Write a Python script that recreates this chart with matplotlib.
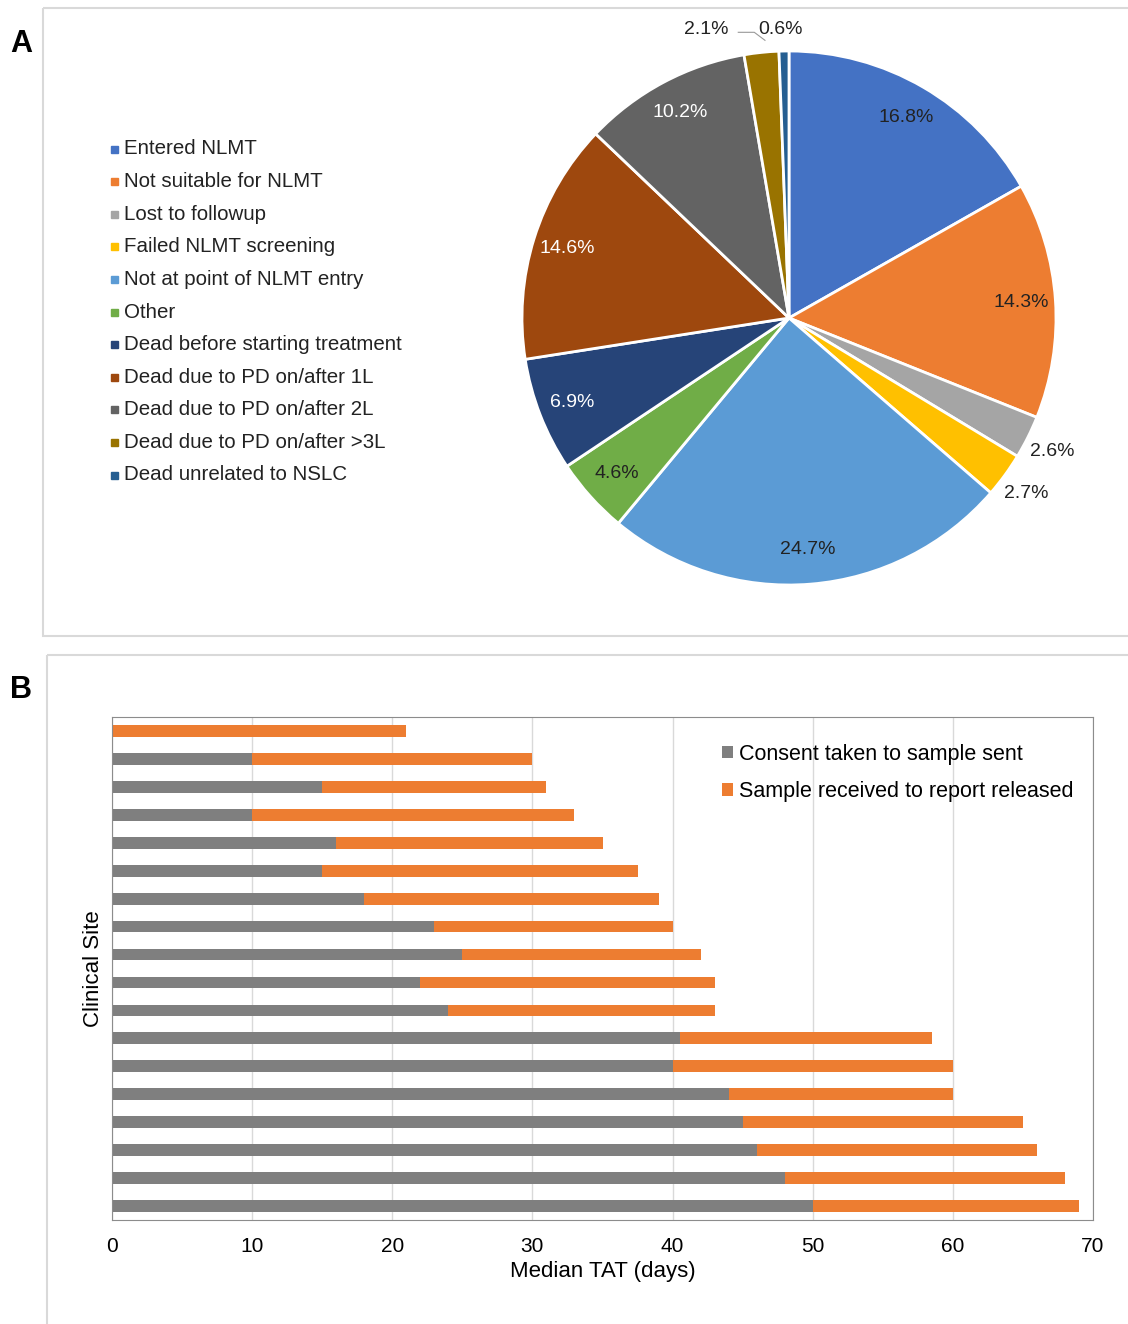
import matplotlib
matplotlib.use("Agg")
import matplotlib.pyplot as plt
import numpy as np
from matplotlib.patches import Rectangle

plt.rcParams['font.family'] = ['Liberation Sans', 'DejaVu Sans']

pie_labels = ["Entered NLMT", "Not suitable for NLMT", "Lost to followup", "Failed NLMT screening",
              "Not at point of NLMT entry", "Other", "Dead before starting treatment",
              "Dead due to PD on/after 1L", "Dead due to PD on/after 2L", "Dead due to PD on/after >3L",
              "Dead unrelated to NSLC"]
pie_values = [16.8, 14.3, 2.6, 2.7, 24.7, 4.6, 6.9, 14.6, 10.2, 2.1, 0.6]
pie_colors = ["#4472C4", "#ED7D31", "#A5A5A5", "#FFC000", "#5B9BD5", "#70AD47",
              "#264478", "#9E480E", "#636363", "#997300", "#255E91"]

consent_to_sent = [0, 10, 15, 10, 16, 15, 18, 23, 25, 22, 24, 40.5, 40, 44, 45, 46, 48, 50]
total_tat = [21, 30, 31, 33, 35, 37.5, 39, 40, 42, 43, 43, 58.5, 60, 60, 65, 66, 68, 69]
received_to_report = [t - c for t, c in zip(total_tat, consent_to_sent)]

W, H = 1128, 1324
fig = plt.figure(figsize=(W/100, H/100), dpi=100)

def fr(x0, y0, x1, y1):
    return [x0/W, 1 - y1/H, (x1-x0)/W, (y1-y0)/H]

bg = fig.add_axes([0, 0, 1, 1]); bg.set_axis_off(); bg.set_xlim(0, W); bg.set_ylim(H, 0)
bg.add_patch(Rectangle((43, 8), 1090, 628, fill=False, ec="#d9d9d9", lw=1.5))
bg.add_patch(Rectangle((47, 655), 1090, 680, fill=False, ec="#d9d9d9", lw=1.5))
bg.text(10, 44, "A", fontsize=22, fontweight="bold", va="center")
bg.text(10, 690, "B", fontsize=22, fontweight="bold", va="center")

for i, (lab, col) in enumerate(zip(pie_labels, pie_colors)):
    y = 149 + i*32.6
    bg.add_patch(Rectangle((111, y-3.5), 7, 7, color=col))
    bg.text(124, y, lab, fontsize=14.8, va="center", color="#222222")

r = 267
axp = fig.add_axes(fr(789-r, 318-r, 789+r, 318+r))
wedges, _ = axp.pie(pie_values, colors=pie_colors, startangle=90, counterclock=False,
                    wedgeprops=dict(edgecolor="white", linewidth=2), radius=1)
axp.set_xlim(-1, 1); axp.set_ylim(-1, 1); axp.set_aspect("equal")
for i, w in enumerate(wedges):
    ang = np.deg2rad((w.theta1 + w.theta2)/2)
    txt = f"{pie_values[i]}%"
    if i in (2, 3):
        d = 1.1
        axp.text(d*np.cos(ang)+0.0, d*np.sin(ang)-0.01, txt, ha="center", va="center", fontsize=14, color="#222222")
    elif i == 9:
        axp.text(-0.31, 1.08, txt, ha="center", va="center", fontsize=14, color="#222222")
        axp.plot([-0.19, -0.13, -0.09], [1.07, 1.07, 1.04], color="#999999", lw=0.8, clip_on=False)
    elif i == 10:
        axp.text(-0.03, 1.08, txt, ha="center", va="center", fontsize=14, color="#222222")
    else:
        d = 0.87
        axp.text(d*np.cos(ang), d*np.sin(ang), txt, ha="center", va="center", fontsize=14,
                 color="#222222" if i in (0, 1, 4, 5) else "white")
for t in axp.texts:
    t.set_clip_on(False)

axb = fig.add_axes(fr(112, 717, 1093, 1220))
y = np.arange(len(total_tat))
axb.barh(y, consent_to_sent, height=0.42, color="#7F7F7F", label="Consent taken to sample sent")
axb.barh(y, received_to_report, left=consent_to_sent, height=0.42, color="#ED7D31",
         label="Sample received to report released")
axb.set_ylim(len(y)-0.5, -0.5)
axb.set_xlim(0, 70)
axb.set_xticks(range(0, 71, 10))
axb.set_yticks([])
axb.tick_params(axis="x", labelsize=15, length=0, pad=12)
axb.grid(axis="x", color="#d9d9d9", lw=1)
axb.set_axisbelow(True)
for s in axb.spines.values():
    s.set_color("#8c8c8c")
axb.set_xlabel("Median TAT (days)", fontsize=16, labelpad=4)
axb.set_ylabel("Clinical Site", fontsize=16, labelpad=6)
axb.legend(loc="upper right", bbox_to_anchor=(1.0, 0.985), frameon=False, fontsize=15.5,
           handlelength=0.5, handleheight=0.5, handletextpad=0.3, labelspacing=0.75)

fig.savefig("out.png", dpi=100)
